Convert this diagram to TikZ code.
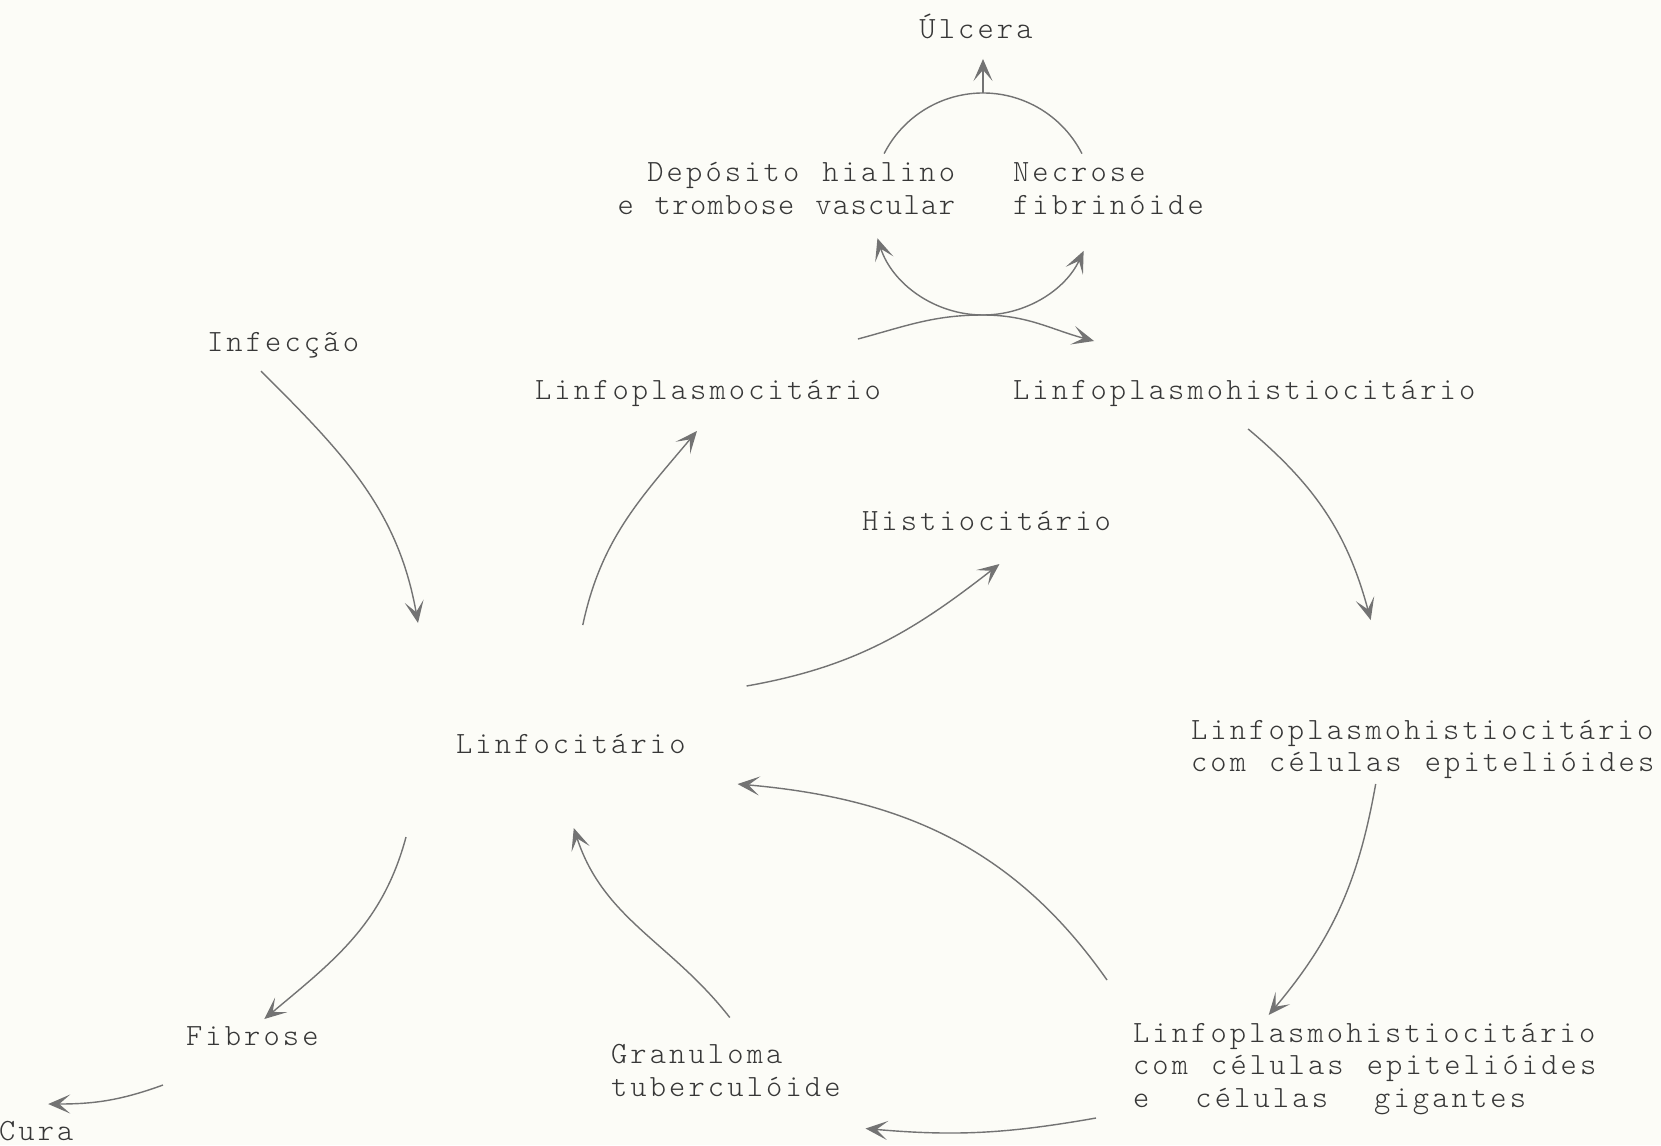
\documentclass[tikz,border=0pt]{standalone}
\usepackage{fontspec}
\newfontfamily\tw{lmmonolt10-regular}[Extension=.otf, LetterSpace=10.2, WordSpace=1.19]
\usetikzlibrary{arrows.meta}
\definecolor{papel}{RGB}{252,252,247}
\definecolor{tinta}{RGB}{55,55,55}
\definecolor{traco}{RGB}{115,115,115}
\begin{document}
\begin{tikzpicture}[
  txt/.style={font={\tw\fontsize{8.8pt}{9.25pt}\selectfont}, text=tinta, inner sep=0pt, outer sep=0pt},
  linha/.style={draw=traco, line width=0.4pt},
  seta/.style={linha, -{Stealth[length=2.2mm,width=1.9mm,inset=1.1mm]}}
]
\useasboundingbox (0,0) rectangle (16.61,11.45);
\fill[papel] (0,0) rectangle (16.61,11.45);
\node[txt, anchor=base] (ulcera) at (9.76,11.06) {Úlcera};
\node[txt, anchor=base east, align=right] (deposito) at (9.55,9.305) {Depósito hialino\\{\addfontfeatures{LetterSpace=4.5}e trombose vascular}};
\node[txt, anchor=base west, align=left] (necrose) at (10.13,9.305) {Necrose\\fibrinóide};
\node[txt, anchor=base west] (infeccao) at (2.07,7.94) {Infecção};
\node[txt, anchor=base west] (lpc) at (5.35,7.46) {Linfoplasmocitário};
\node[txt, anchor=base west] (lph) at (10.13,7.46) {Linfoplasmohistiocitário};
\node[txt, anchor=base west] (histio) at (8.62,6.15) {Histiocitário};
\node[txt, anchor=base west] (linfo) at (4.56,3.92) {Linfocitário};
\node[txt, anchor=base west, align=left] (lphepit) at (11.91,3.735) {Linfoplasmohistiocitário\\com células epitelióides};
\node[txt, anchor=base west] (fibrose) at (1.86,1.00) {Fibrose};
\node[txt, anchor=base west] (cura) at (-0.01,0.05) {Cura};
\node[txt, anchor=base west, align=left] (granuloma) at (6.11,0.49) {Granuloma\\tuberculóide};
\node[txt, anchor=base west, align=left] (lphgig) at (11.33,0.377) {Linfoplasmohistiocitário\\com células epitelióides\\e~~células~~gigantes};
\coordinate (ciclo) at (9.83,9.41);
\draw[seta] ([shift={(-0.22,-0.20)}]infeccao.base) to[out=-45,in=100] ([shift={(-0.38,1.30)}]linfo.base west);
\draw[seta] ([shift={(0.12,1.28)}]linfo.base) to[out=78,in=-130] ([shift={(-0.11,-0.32)}]lpc.base);
\draw[seta] ([shift={(0.61,0.67)}]linfo.base east) to[out=10,in=-142] ([shift={(0.13,-0.34)}]histio.base);
\draw[seta] ([shift={(0.04,-0.30)}]lph.base) to[out=-40,in=105] ([shift={(-0.52,1.515)}]lphepit.base);
\draw[seta] ([shift={(-0.47,-0.125)}]lphepit.base) to[out=-100,in=50] ([shift={(-0.96,0.923)}]lphgig.base);
\draw[seta] ([shift={(-0.26,1.273)}]lphgig.base west) to[out=125,in=-5] ([shift={(0.52,-0.31)}]linfo.base east);
\draw[seta] ([shift={(-0.37,-0.107)}]lphgig.base west) to[out=190,in=-5] ([shift={(0.25,-0.325)}]granuloma.base east);
\draw[seta] ([shift={(0.04,0.785)}]granuloma.base) to[out=128,in=-72] ([shift={(0.03,-0.75)}]linfo.base);
\draw[seta] ([shift={(-0.50,-0.84)}]linfo.base west) to[out=-105,in=40] ([shift={(0.12,0.26)}]fibrose.base);
\draw[seta] ([shift={(-0.23,-0.40)}]fibrose.base west) to[out=200,in=0] ([shift={(0.12,0.36)}]cura.base);
\draw[seta] ([shift={(-0.23,0.60)}]lpc.base east) to[out=15,in=180] ([yshift=-1.11cm]ciclo) to[out=0,in=165] ([shift={(0.81,0.58)}]lph.base west);
\draw[seta] ([yshift=-1.11cm]ciclo) arc[start angle=270,end angle=198,radius=1.11];
\draw[seta] ([yshift=-1.11cm]ciclo) arc[start angle=270,end angle=335,radius=1.11];
\draw[linha] (ciclo) ++(153:1.11) arc[start angle=153,end angle=27,radius=1.11];
\draw[seta] ([yshift=1.11cm]ciclo) -- ([shift={(0.07,-0.20)}]ulcera.base);
\end{tikzpicture}
\end{document}
